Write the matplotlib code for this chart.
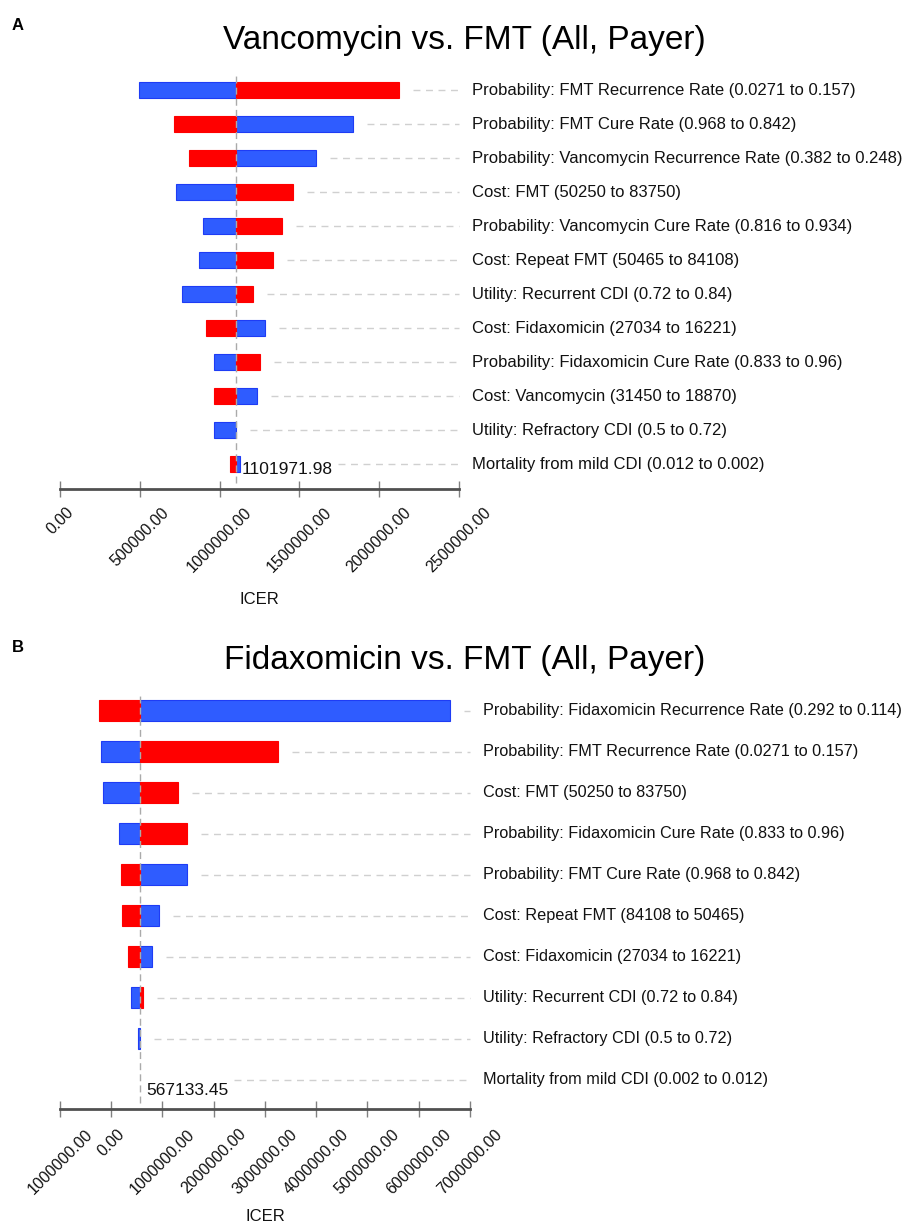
import matplotlib
matplotlib.use("Agg")
import matplotlib.pyplot as plt
import numpy as np

plt.rcParams['font.family'] = ['Liberation Sans', 'DejaVu Sans']

# ---------------- data ----------------
title_a = "Vancomycin vs. FMT (All, Payer)"
labels_a = [
    "Probability: FMT Recurrence Rate (0.0271 to 0.157)",
    "Probability: FMT Cure Rate (0.968 to 0.842)",
    "Probability: Vancomycin Recurrence Rate (0.382 to 0.248)",
    "Cost: FMT (50250 to 83750)",
    "Probability: Vancomycin Cure Rate (0.816 to 0.934)",
    "Cost: Repeat FMT (50465 to 84108)",
    "Utility: Recurrent CDI (0.72 to 0.84)",
    "Cost: Fidaxomicin (27034 to 16221)",
    "Probability: Fidaxomicin Cure Rate (0.833 to 0.96)",
    "Cost: Vancomycin (31450 to 18870)",
    "Utility: Refractory CDI (0.5 to 0.72)",
    "Mortality from mild CDI (0.012 to 0.002)",
]
base_a = 1101971.98
blue_a = [495000, 1836400, 1602000, 729800, 894800, 869700, 763000, 1285900, 965800, 1235700, 965800, 1129000]
red_a = [2123000, 712800, 808900, 1461600, 1392600, 1332300, 1210500, 913700, 1252600, 965800, 1101971.98, 1066200]
ticks_a = [0, 500000, 1000000, 1500000, 2000000, 2500000]
ticklabels_a = ["0.00", "500000.00", "1000000.00", "1500000.00", "2000000.00", "2500000.00"]

title_b = "Fidaxomicin vs. FMT (All, Payer)"
labels_b = [
    "Probability: Fidaxomicin Recurrence Rate (0.292 to 0.114)",
    "Probability: FMT Recurrence Rate (0.0271 to 0.157)",
    "Cost: FMT (50250 to 83750)",
    "Probability: Fidaxomicin Cure Rate (0.833 to 0.96)",
    "Probability: FMT Cure Rate (0.968 to 0.842)",
    "Cost: Repeat FMT (84108 to 50465)",
    "Cost: Fidaxomicin (27034 to 16221)",
    "Utility: Recurrent CDI (0.72 to 0.84)",
    "Utility: Refractory CDI (0.5 to 0.72)",
    "Mortality from mild CDI (0.002 to 0.012)",
]
base_b = 567133.45
blue_b = [6604000, -205500, -154800, 157400, 1478300, 932000, 795400, 379800, 530000, 567133.45]
red_b = [-232900, 3248000, 1296900, 1478300, 190500, 215900, 327100, 619800, 567133.45, 567133.45]
ticks_b = [-1000000, 0, 1000000, 2000000, 3000000, 4000000, 5000000, 6000000, 7000000]
ticklabels_b = ["1000000.00", "0.00", "1000000.00", "2000000.00", "3000000.00",
                "4000000.00", "5000000.00", "6000000.00", "7000000.00"]

RED = "#FF0000"
BLUE = "#2F5CFF"
BLUE_EDGE = "#1E3CF5"

W, H = 909, 1228
fig = plt.figure(figsize=(W / 100, H / 100), dpi=100)


def px_axes(x0, x1, ytop, ybot):
    return fig.add_axes([x0 / W, 1 - ybot / H, (x1 - x0) / W, (ybot - ytop) / H])


def tornado(ax, labels, blue, red, base, ticks, ticklabels, xlim, row0_px, row_step,
            ytop_px, ybot_px, label_x_px, base_text, base_text_dy, tick_pad, label_pad,
            label_fs):
    n = len(labels)
    y = np.arange(n)
    ax.set_xlim(*xlim)
    ax.set_ylim((ybot_px - row0_px) / row_step, -(row0_px - ytop_px) / row_step)
    h = 0.49
    for i in range(n):
        for val, col, ec in ((blue[i], BLUE, BLUE_EDGE), (red[i], RED, RED)):
            w = val - base
            if abs(w) > 0:
                ax.barh(y[i], w, left=base, height=h, color=col, edgecolor=ec,
                        linewidth=0.8, zorder=3)
    # baseline dashed vertical line
    ax.axvline(base, ymin=0.015, ymax=1.0, color="#AAAAAA", lw=1.0,
               ls=(0, (5, 3)), zorder=4)
    # axis styling
    for s in ("top", "left", "right"):
        ax.spines[s].set_visible(False)
    ax.spines["bottom"].set_color("#505050")
    ax.spines["bottom"].set_linewidth(2.0)
    ax.set_yticks([])
    ax.set_xticks(ticks)
    ax.set_xticklabels(ticklabels, rotation=45, ha="center", va="top",
                       fontsize=11.5, color="#111111")
    ax.tick_params(axis="x", direction="inout", length=11, width=1.0,
                   color="#808080", pad=tick_pad)
    ax.set_xlabel("ICER", fontsize=12, color="#111111", labelpad=label_pad)
    # labels on the right
    trans = ax.get_yaxis_transform()
    ax_x0 = ax.get_position().x0 * W
    ax_w = ax.get_position().width * W
    for i in range(n):
        ax.text((label_x_px - ax_x0) / ax_w, y[i], labels[i], transform=trans,
                ha="left", va="center", fontsize=label_fs, color="#111111", clip_on=False)
    # baseline value text
    bt = ax.text(base + (xlim[1] - xlim[0]) / ax_w * 6, n - 1 + base_text_dy, base_text,
                 ha="left", va="center", fontsize=12.5, color="#111111", zorder=5)
    fig.canvas.draw()
    bb = bt.get_window_extent()
    inv = ax.transData.inverted()
    text_end = inv.transform((bb.x1, bb.y0))[0]
    text_rows = [r for r in range(n) if abs((n - 1 + base_text_dy) - r) < 0.35]
    gap = (xlim[1] - xlim[0]) / ax_w * 14
    for i in range(n):
        start = max(blue[i], red[i], base) + gap
        if i in text_rows:
            start = max(start, text_end + (xlim[1] - xlim[0]) / ax_w * 5)
        ax.plot([start, xlim[1]], [y[i], y[i]], color="#D0D0D0", lw=1.0,
                ls=(0, (5, 4)), zorder=1, clip_on=False)


# Panel A
axA = px_axes(60, 459, 74, 489)
tornado(axA, labels_a, blue_a, red_a, base_a, ticks_a, ticklabels_a,
        (0, 2500000), 90, 34, 74, 489, 472, "1101971.98", 0.15, 6, 12, 12)
fig.text(464 / W, 1 - 41 / H, title_a, ha="center", va="center", fontsize=24)
fig.text(12 / W, 1 - 25 / H, "A", ha="left", va="center", fontsize=12, fontweight="bold")

# Panel B
axB = px_axes(60, 470, 693, 1109)
tornado(axB, labels_b, blue_b, red_b, base_b, ticks_b, ticklabels_b,
        (-1000000, 7000000), 710.5, 41, 693, 1109, 483, "567133.45", 0.27, 7, 9, 11.7)
fig.text(465 / W, 1 - 660 / H, title_b, ha="center", va="center", fontsize=24)
fig.text(12 / W, 1 - 648 / H, "B", ha="left", va="center", fontsize=12, fontweight="bold")

fig.savefig("out.png", dpi=100, facecolor="white")
